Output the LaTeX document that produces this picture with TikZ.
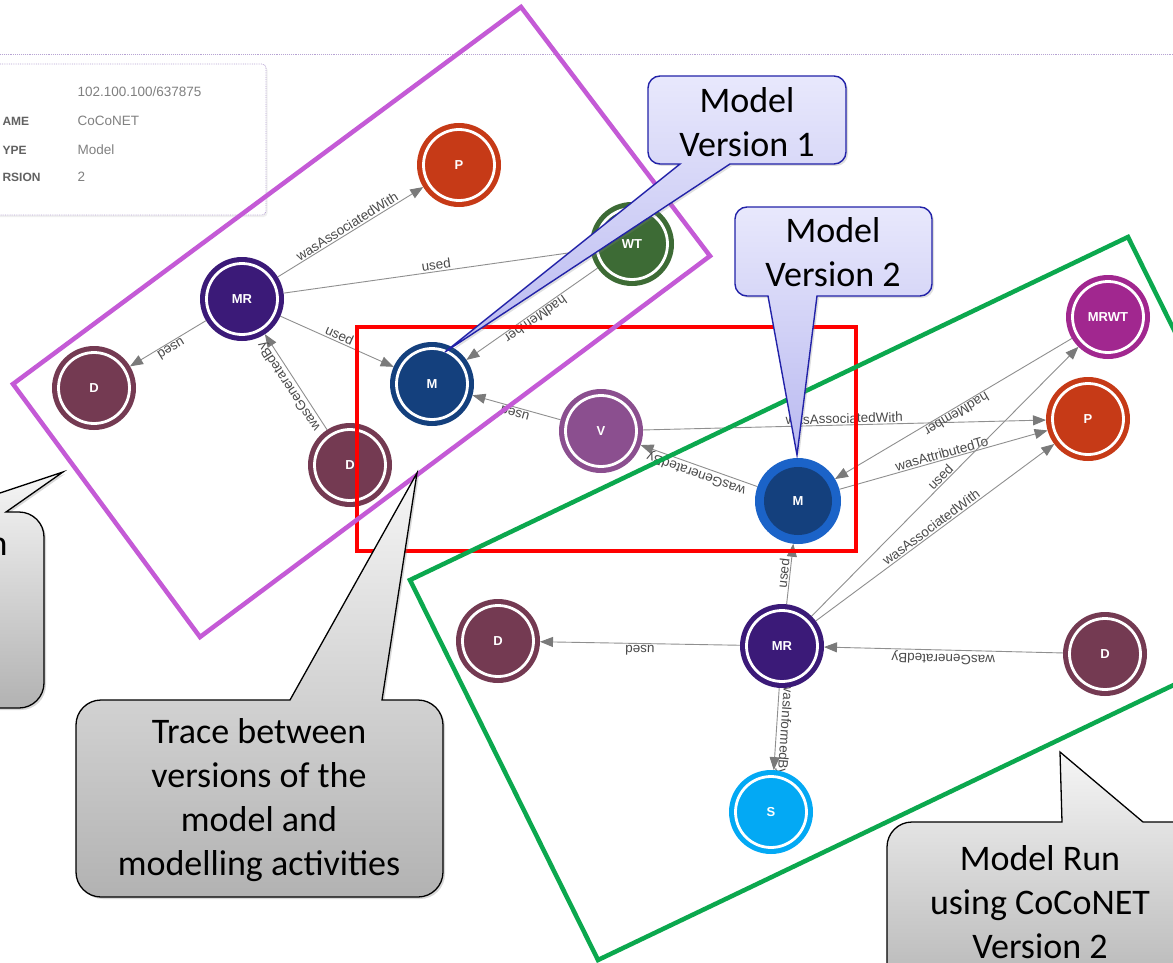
\documentclass[tikz,border=0pt]{standalone}
\usepackage{fontspec}
\setmainfont{Carlito}
\newfontfamily\uifont{Liberation Sans}
\usetikzlibrary{arrows.meta,shadows}
\pgfdeclarelayer{back}
\pgfdeclarelayer{edges}
\pgfsetlayers{back,edges,main}

% node fills
\definecolor{colP}{HTML}{C63A17}
\definecolor{colWT}{HTML}{3D6B35}
\definecolor{colMR}{HTML}{3B1A78}
\definecolor{colD}{HTML}{743A52}
\definecolor{colM}{HTML}{14407D}
\definecolor{colV}{HTML}{8B4F8F}
\definecolor{colMRWT}{HTML}{A1278F}
\definecolor{colS}{HTML}{03A9F4}
\definecolor{colMring}{HTML}{1B63C8}
% connectors
\definecolor{edgegray}{HTML}{8F8F8F}
\definecolor{tipgray}{HTML}{7A7A7A}
\definecolor{labelgray}{HTML}{4A4A4A}
% group frames
\definecolor{framepurple}{HTML}{C45AD6}
\definecolor{framegreen}{HTML}{0BA84E}
% callouts
\definecolor{lavtop}{HTML}{E8E8FC}
\definecolor{lavbot}{HTML}{B9B9F0}
\definecolor{lavline}{HTML}{2222A8}
\definecolor{graytop}{HTML}{F6F6F6}
\definecolor{graybot}{HTML}{B2B2B2}
% info panel
\definecolor{panelline}{HTML}{B7A3D3}
\definecolor{paneltext}{HTML}{808080}
\definecolor{panelkey}{HTML}{616161}

\begin{document}
\begin{tikzpicture}[x=1pt,y=-1pt,
  badge/.style={circle, minimum size=84pt, inner sep=0pt, outer sep=0pt,
    fill=#1, text=white, font=\uifont\bfseries\fontsize{13}{14}\selectfont,
    path picture={\draw[white,line width=2.8pt]
      (path picture bounding box.center) circle[radius=35.5pt];}},
  badgecur/.style={circle, minimum size=86pt, inner sep=0pt, outer sep=0pt,
    fill=colMring, text=white, font=\uifont\bfseries\fontsize{13}{14}\selectfont,
    path picture={\fill[colM]
      (path picture bounding box.center) circle[radius=34pt];}},
  edge/.style={draw=edgegray, line width=0.9pt,
    -{Triangle[length=13pt,width=10pt,color=tipgray]}},
  elabel/.style={midway, sloped, allow upside down, above, inner sep=1.2pt,
    text=labelgray, font=\uifont\fontsize{13.5}{15}\selectfont},
  frame/.style={line width=4.5pt, line join=miter},
  bluecallout/.style={draw=lavline, line width=1.4pt, top color=lavtop,
    bottom color=lavbot,
    drop shadow={opacity=0.25, shadow xshift=2pt, shadow yshift=-2pt}},
  graycallout/.style={draw=black, line width=1.3pt, top color=graytop,
    bottom color=graybot,
    drop shadow={opacity=0.3, shadow xshift=2pt, shadow yshift=-2pt}},
  callouttext/.style={align=center, text=black,
    font=\fontsize{36}{44}\selectfont},
  panelkeytext/.style={anchor=base west, text=panelkey,
    font=\uifont\bfseries\fontsize{12}{14}\selectfont},
  panelvaltext/.style={anchor=base west, text=paneltext,
    font=\uifont\fontsize{13.5}{15}\selectfont}
]
\useasboundingbox (0,0) rectangle (1173,963);
\clip (0,0) rectangle (1173,963);

% page background, header rule and the details panel
\begin{pgfonlayer}{back}
  \fill[white] (0,0) rectangle (1173,963);
  \draw[panelline, densely dotted, line width=0.9pt] (0,54) -- (1173,54);
  \draw[panelline, densely dotted, line width=0.8pt, fill=white,
        rounded corners=4pt,
        drop shadow={opacity=0.12, shadow xshift=1.5pt, shadow yshift=-2pt}]
    (-10,64) rectangle (266,215);
  \node[panelvaltext] (vid) at (74,97) {102.100.100/637875};
  \node[panelkeytext] (kname) at (-1,126) {AME};
  \node[panelvaltext] (vname) at (74,126) {CoCoNET};
  \node[panelkeytext] (ktype) at (-1,154) {YPE};
  \node[panelvaltext] (vtype) at (74,154) {Model};
  \node[panelkeytext] (kver) at (-1,182) {RSION};
  \node[panelvaltext] (vver) at (74,182) {2};
\end{pgfonlayer}

% provenance entities, activities and agents
\node[badge=colP]    (p1)   at (459,165) {P};
\node[badge=colWT]   (wt)   at (632,244) {WT};
\node[badge=colMR]   (mra)  at (242,299) {MR};
\node[badge=colD]    (da)   at (94,388)  {D};
\node[badge=colD]    (db)   at (350,465) {D};
\node[badge=colM]    (ma)   at (432,384) {M};
\node[badge=colV]    (v)    at (601,431) {V};
\node[badgecur]      (mb)   at (798,501) {M};
\node[badge=colMRWT] (mrwt) at (1108,317) {MRWT};
\node[badge=colP]    (pb)   at (1088,419) {P};
\node[badge=colD]    (dc)   at (498,641) {D};
\node[badge=colMR]   (mrb)  at (782,646) {MR};
\node[badge=colD]    (dd)   at (1105,654) {D};
\node[badge=colS]    (s)    at (771,812) {S};

% provenance relations
\begin{pgfonlayer}{edges}
  \draw[edge] (mra) -- node[elabel]{wasAssociatedWith} (p1);
  \draw[edge] (mra) -- node[elabel]{used} (wt);
  \draw[edge] (mra) -- node[elabel]{used} (da);
  \draw[edge] (mra) -- node[elabel]{used} (ma);
  \draw[edge] (db) -- node[elabel]{wasGeneratedBy} (mra);
  \draw[edge] (wt) -- node[elabel]{hadMember} (ma);
  \draw[edge] (v) -- node[elabel]{used} (ma);
  \draw[edge] (v) -- node[elabel]{wasAssociatedWith} (pb);
  \draw[edge] (mb) -- node[elabel]{wasGeneratedBy} (v);
  \draw[edge] (mrwt) -- node[elabel]{hadMember} (mb);
  \draw[edge] (mb) -- node[elabel]{wasAttributedTo} (pb);
  \draw[edge] (mrb) -- node[elabel]{used} (mrwt);
  \draw[edge] (mrb) -- node[elabel]{wasAssociatedWith} (pb);
  \draw[edge] (mrb) -- node[elabel]{used} (mb);
  \draw[edge] (mrb) -- node[elabel]{used} (dc);
  \draw[edge] (dd) -- node[elabel]{wasGeneratedBy} (mrb);
  \draw[edge] (mrb) -- node[elabel]{wasInformedBy} (s);
\end{pgfonlayer}

% grouping frames
\draw[frame, red] (357,327) rectangle (856,551);
\draw[frame, framepurple] (521,7) -- (710,256) -- (200,637) -- (13,384) -- cycle;
\draw[frame, framegreen] (410,580) -- (1128,237) -- (1316,617) -- (598,960) -- cycle;

% callouts
\path[bluecallout] (445,352) -- (680,164) [rounded corners=12pt]
  -- (648,164) -- (648,76) -- (846,76) -- (846,164) [sharp corners]
  -- (730,164) -- cycle;
\node[callouttext] (v1text) at (747,122) {Model\\Version 1};

\path[bluecallout] (797,455) -- (768,296) [rounded corners=12pt]
  -- (735,296) -- (735,207) -- (932,207) -- (932,296) [sharp corners]
  -- (817,296) -- cycle;
\node[callouttext] (v2text) at (833,252) {Model\\Version 2};

\path[graycallout] (63,472) -- (-57,512) [rounded corners=25pt]
  -- (-200,512) -- (-200,708) -- (44,708) -- (44,512) [sharp corners]
  -- (6,512) -- cycle;
\node[callouttext, anchor=base east] (lefttext) at (11,555) {n};

\path[graycallout] (417,473) -- (290,700) [rounded corners=25pt]
  -- (76,700) -- (76,897) -- (443,897) -- (443,700) [sharp corners]
  -- (382,700) -- cycle;
\node[callouttext] (tracetext) at (259,800)
  {Trace between\\versions of the\\model and\\modelling activities};

\path[graycallout] (1060,752) -- (1062,822) [rounded corners=25pt]
  -- (887,822) -- (887,1010) -- (1210,1010) -- (1210,822) [sharp corners]
  -- (1143,822) -- cycle;
\node[callouttext] (runtext) at (1040,902)
  {Model Run\\using CoCoNET\\Version 2};
\end{tikzpicture}
\end{document}
